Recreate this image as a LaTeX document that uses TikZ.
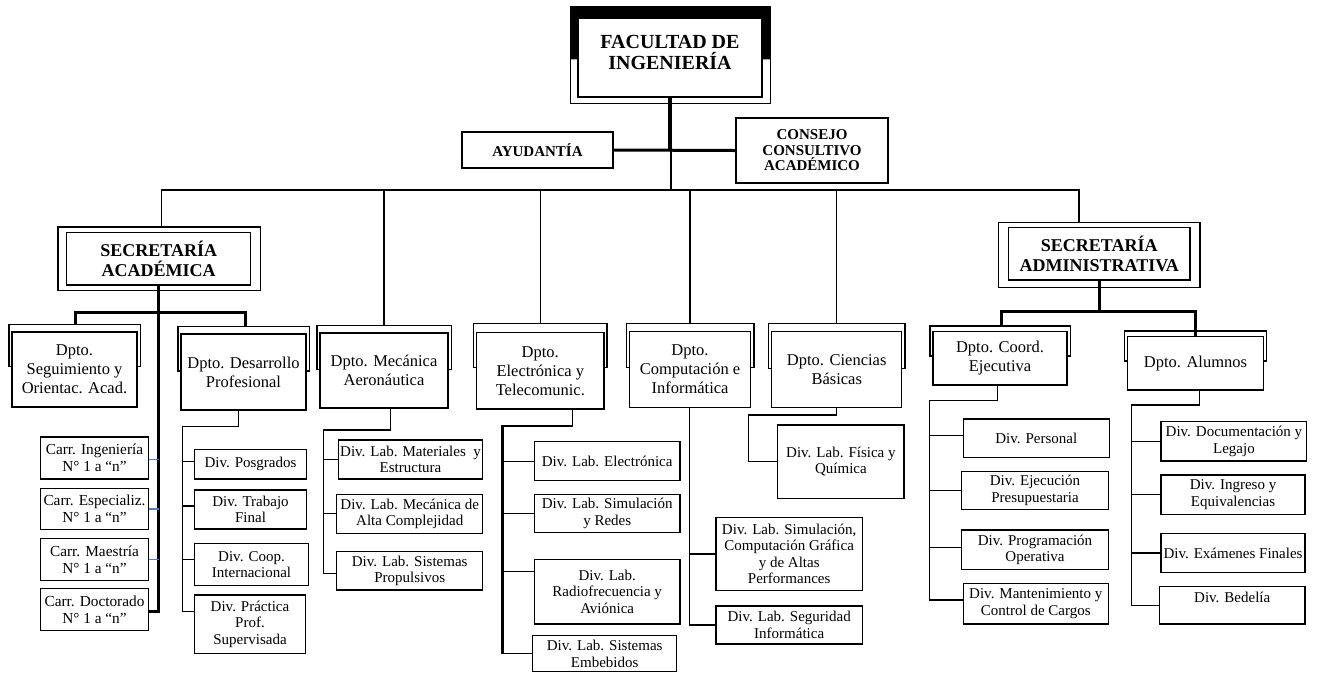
\documentclass[tikz,border=0pt]{standalone}
\usepackage{fontspec}
\setmainfont{Liberation Serif}
\usetikzlibrary{calc}
\definecolor{linkblue}{RGB}{79,129,189}
\tikzset{
  divbox/.style={draw, line width=1.3pt, rectangle, inner sep=0.5pt, align=center, font=\fontsize{15}{16.5}\selectfont},
  deptbox/.style={divbox, font=\fontsize{16.5}{19}\selectfont},
  carrbox/.style={divbox, font=\fontsize{15.3}{16.6}\selectfont},
  titlebox/.style={divbox, font=\bfseries\fontsize{18}{20}\selectfont},
  sz/.style 2 args={minimum width=#1pt, minimum height=#2pt},
  conn/.style={line width=1.3pt},
  thickconn/.style={line width=3pt},
  blueconn/.style={line width=1.3pt, draw=linkblue},
}
\newcommand\brk[3]{%
  \draw[conn] ([shift={(0,#3)}]#1.north west) -- ([shift={(-2.5,#3)}]#1.north west)
    -- ([shift={(-2.5,-#2)}]#1.north west) -- ([shift={(2.5,-#2)}]#1.north east)
    -- ([shift={(2.5,#3)}]#1.north east) -- ([shift={(0,#3)}]#1.north east);}
\begin{document}
\begin{tikzpicture}[x=1pt,y=-1pt]
\useasboundingbox (0,0) rectangle (1321,673);
% ---------- top level
\node[divbox, sz={184}{79}] (fac) at (670,57.5) {};
\fill ([shift={(-7,-11)}]fac.north west) -- ([shift={(8,-11)}]fac.north east)
  -- ([shift={(8,42)}]fac.north east) -- ([shift={(0,42)}]fac.north east)
  -- (fac.north east) -- (fac.north west) -- ([shift={(0,42)}]fac.north west)
  -- ([shift={(-7,42)}]fac.north west) -- cycle;
\draw[conn] ([shift={(-7,-11)}]fac.north west) rectangle ([shift={(8,6)}]fac.south east);
\node[font=\bfseries\fontsize{20}{21}\selectfont, align=center] (facl) at (670,52.5) {FACULTAD DE\\INGENIERÍA};
\node[divbox, sz={151}{36}, font=\bfseries\fontsize{15}{16}\selectfont] (ayu) at (537.5,150) {AYUDANTÍA};
\node[divbox, sz={152}{65}, line width=2.5pt, font=\bfseries\fontsize{15}{15.5}\selectfont] (cons) at (812,150.5) {CONSEJO\\CONSULTIVO\\ACADÉMICO};
% ---------- secretarias
\node[titlebox, sz={184}{52.3}] (sa) at (158.7,258.9) {SECRETARÍA\\ACADÉMICA};
\draw[conn] ([shift={(-8,-5)}]sa.north west) rectangle ([shift={(9,5)}]sa.south east);
\node[titlebox, sz={181.3}{52.3}] (sad) at (1099.3,253.8) {SECRETARÍA\\ADMINISTRATIVA};
\draw[conn] ([shift={(-9.5,-4.4)}]sad.north west) rectangle ([shift={(9.3,6.7)}]sad.south east);
% ---------- departments
\node[deptbox, sz={125}{75}] (seg) at (74.5,369.5) {Dpto.\\Seguimiento y\\Orientac. Acad.};
\node[deptbox, sz={125}{76}] (des) at (243.5,372) {Dpto. Desarrollo\\Profesional};
\node[deptbox, sz={128}{75}] (mec) at (384,370.5) {Dpto. Mecánica\\Aeronáutica};
\node[deptbox, sz={127.3}{76.3}] (ele) at (540.3,370.8) {Dpto.\\Electrónica y\\Telecomunic.};
\node[deptbox, sz={121.4}{75.6}] (com) at (690,369.5) {Dpto.\\Computación e\\Informática};
\node[deptbox, sz={130}{75.6}] (cie) at (836.7,369.5) {Dpto. Ciencias\\Básicas};
\node[deptbox, sz={134}{53.3}] (coo) at (1000,358.3) {Dpto. Coord.\\Ejecutiva};
\node[deptbox, sz={135.6}{53.3}] (alu) at (1195.5,363.3) {Dpto. Alumnos};
\brk{seg}{7}{35}
\brk{des}{6.7}{37.7}
\brk{mec}{7}{37}
\brk{ele}{8.4}{35.3}
\brk{com}{7.4}{36.3}
\brk{cie}{7.4}{37.6}
\brk{coo}{5}{25}
\brk{alu}{5}{25}
% ---------- carreras
\node[carrbox, sz={107.6}{42}] (ing) at (94.5,457.9) {Carr. Ingeniería\\N° 1 a “n”};
\node[carrbox, sz={107.6}{41}] (esp) at (94.5,508.7) {Carr. Especializ.\\N° 1 a “n”};
\node[carrbox, sz={107.6}{42}] (mae) at (94.5,559.5) {Carr. Maestría\\N° 1 a “n”};
\node[carrbox, sz={107.6}{42}] (doc) at (94.5,609.5) {Carr. Doctorado\\N° 1 a “n”};
% ---------- divisions
\node[divbox, sz={112.4}{29.7}] (pos) at (250.5,464.2) {Div. Posgrados};
\node[divbox, sz={112.4}{39}] (tra) at (250.5,509.5) {Div. Trabajo\\Final};
\node[divbox, sz={114.4}{42.4}] (coop) at (251.5,564.5) {Div. Coop.\\Internacional};
\node[divbox, sz={111.4}{58.3}] (pra) at (250,624.2) {Div. Práctica\\Prof.\\Supervisada};
\node[divbox, sz={144.4}{39}] (mat) at (410.5,459.5) {Div. Lab. Materiales~ y\\Estructura};
\node[divbox, sz={146}{39}] (mca) at (409.7,513.8) {Div. Lab. Mecánica de\\Alta Complejidad};
\node[divbox, sz={146}{38.3}] (pro) at (409.7,570.9) {Div. Lab. Sistemas\\Propulsivos};
\node[divbox, sz={145.7}{39}] (lel) at (607.2,461.2) {Div. Lab. Electrónica};
\node[divbox, sz={145.7}{38}] (lsr) at (607.2,513.3) {Div. Lab. Simulación\\y Redes};
\node[divbox, sz={145.7}{64.7}] (lra) at (607.2,591.7) {Div. Lab.\\Radiofrecuencia y\\Aviónica};
\node[divbox, sz={144}{36}] (lse) at (604.7,653.7) {Div. Lab. Sistemas\\Embebidos};
\node[divbox, sz={146.3}{73.4}] (lsc) at (789.2,554) {Div. Lab. Simulación,\\Computación Gráfica\\y de Altas\\Performances};
\node[divbox, sz={146.3}{38}] (lsi) at (789.2,625) {Div. Lab. Seguridad\\Informática};
\node[divbox, sz={126.3}{73.3}] (lfq) at (840.9,461.7) {Div. Lab. Física y\\Química};
\node[divbox, sz={146}{38.3}] (per) at (1036.3,438.2) {Div. Personal};
\node[divbox, sz={146.6}{37.6}] (eje) at (1035,490.5) {Div. Ejecución\\Presupuestaria};
\node[divbox, sz={146.6}{39.3}] (prg) at (1035,549.7) {Div. Programación\\Operativa};
\node[divbox, sz={145}{40.7}] (man) at (1035.8,603.7) {Div. Mantenimiento y\\Control de Cargos};
\node[divbox, sz={145.7}{39.3}] (dle) at (1233.9,441.4) {Div. Documentación y\\Legajo};
\node[divbox, sz={144}{39.3}] (ieq) at (1233,494.7) {Div. Ingreso y\\Equivalencias};
\node[divbox, sz={144}{39.4}] (exf) at (1233,553) {Div. Exámenes Finales};
\node[divbox, sz={145.7}{37.3}] (bed) at (1232.2,605.4) {Div. Bedelía\\\mbox{}};
% ---------- top connectors
\coordinate (bus) at (671,190);
\draw[line width=4pt] (fac.south) -- (fac.south |- ayu.east);
\draw[line width=3pt] (ayu.east) -- (cons.west);
\draw[conn] ([xshift=1pt]fac.south |- ayu.east) -- ([xshift=1pt]fac.south |- bus);
\draw[conn] ([xshift=2.8pt,yshift=5pt]sa.north) |- (bus) -| ([xshift=-20.3pt,yshift=4.4pt]sad.north);
\draw[conn] ([yshift=7pt]mec.north) -- (mec.north |- bus);
\draw[conn] ([yshift=8.4pt]ele.north) -- (ele.north |- bus);
\draw[conn] ([yshift=7.4pt]com.north) -- (com.north |- bus);
\draw[conn] ([yshift=7.4pt]cie.north) -- (cie.north |- bus);
% ---------- secretaria academica
\coordinate (saBus) at (159,312);
\draw[thickconn] (sa.south) |- ([yshift=-2.2pt]doc.east);
\draw[thickconn] ([xshift=0.5pt,yshift=7pt]seg.north) |- (saBus) -| ([xshift=1.5pt,yshift=6.7pt]des.north);
\draw[blueconn] ([yshift=-1.5pt]ing.east) -- ([yshift=-1.5pt]ing.east -| sa.south);
\draw[blueconn] ([yshift=-0.4pt]esp.east) -- ([yshift=-0.4pt]esp.east -| sa.south);
\draw[blueconn] (mae.east) -- (mae.east -| sa.south);
% ---------- secretaria administrativa
\coordinate (sdBus) at (1100,311);
\draw[thickconn] (sad.south) -- (sad.south |- sdBus);
\draw[thickconn] ([xshift=1pt,yshift=5pt]coo.north) |- (sdBus) -| ([xshift=-0.5pt]alu.north);
% ---------- desarrollo
\coordinate (desJ) at (182.7,426.7);
\draw[conn] ([xshift=-5.2pt]des.south) |- (desJ) |- ([yshift=12.5pt]pra.west);
\draw[conn] ([yshift=2.5pt]pos.west) -- ([yshift=2.5pt]pos.west -| desJ);
\draw[conn] ([yshift=3.5pt]tra.west) -- ([yshift=3.5pt]tra.west -| desJ);
\draw[conn] ([yshift=5.2pt]coop.west) -- ([yshift=5.2pt]coop.west -| desJ);
% ---------- mecanica
\coordinate (mecJ) at (323.3,430);
\draw[conn] ([xshift=6.7pt]mec.south) |- (mecJ) |- ([yshift=-2.4pt]pro.west);
\draw[conn] (mat.west) -- (mat.west -| mecJ);
\draw[conn] (mca.west) -- (mca.west -| mecJ);
% ---------- electronica
\coordinate (eleJ) at (502.7,426);
\draw[conn] ([xshift=32.4pt]ele.south) -- ([xshift=32.4pt]ele.south |- eleJ);
\draw[line width=2.5pt] ([xshift=32.4pt]ele.south |- eleJ) -- (eleJ) -- (eleJ |- lse.west);
\draw[conn] (lel.west) -- (lel.west -| eleJ);
\draw[conn] (lsr.west) -- (lsr.west -| eleJ);
\draw[conn] ([yshift=20pt]lra.west) -- ([yshift=20pt]lra.west -| eleJ);
\draw[conn] (lse.west) -- (lse.west -| eleJ);
% ---------- computacion
\draw[conn] ([xshift=-0.7pt]com.south) |- (lsi.west);
\draw[conn] (lsc.west) -- ([xshift=-0.7pt]lsc.west -| com.south);
% ---------- ciencias
\coordinate (cieJ) at (748.3,415);
\draw[conn] (cie.south) |- (cieJ) |- (lfq.west);
% ---------- coordinacion
\coordinate (cooJ) at (929.5,400.7);
\draw[conn] ([xshift=-2.3pt]coo.south) |- (cooJ) |- ([yshift=3.6pt]man.west);
\draw[conn] ([yshift=2.5pt]per.west) -- ([yshift=2.5pt]per.west -| cooJ);
\draw[conn] (eje.west) -- (eje.west -| cooJ);
\draw[conn] ([yshift=2pt]prg.west) -- ([yshift=2pt]prg.west -| cooJ);
% ---------- alumnos
\coordinate (aluJ) at (1131.7,405);
\draw[conn] ([xshift=3.8pt]alu.south) |- (aluJ) |- (bed.west);
\draw[conn] (dle.west) -- (dle.west -| aluJ);
\draw[conn] (ieq.west) -- (ieq.west -| aluJ);
\draw[conn] (exf.west) -- (exf.west -| aluJ);
\end{tikzpicture}
\end{document}
